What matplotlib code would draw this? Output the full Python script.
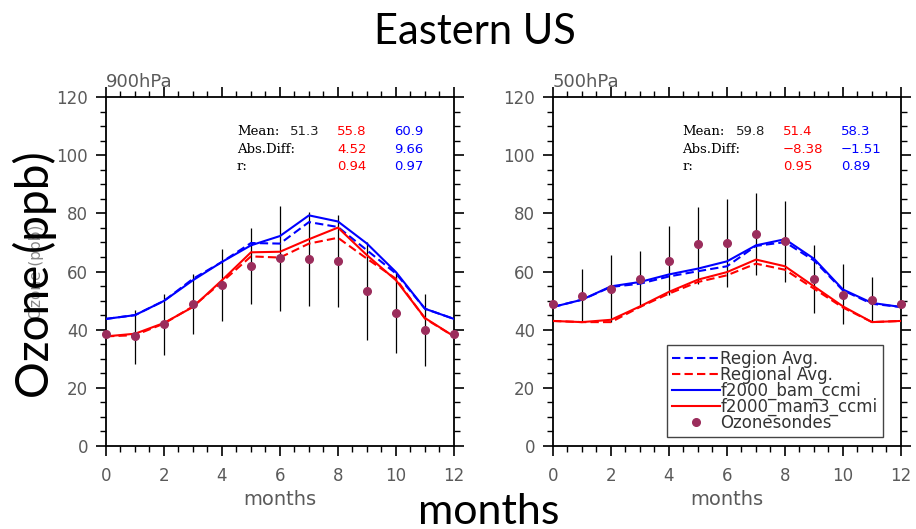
import numpy as np
import matplotlib
matplotlib.use("Agg")
import matplotlib.pyplot as plt
from matplotlib.ticker import MultipleLocator

# meses 0..12 (12 repite enero)
months = list(range(13))

# 900 hPa
bam_900 = [43.7, 45.0, 49.9, 57.0, 63.3, 69.0, 72.2, 79.3, 77.2, 69.6, 59.8, 47.2, 43.7]
bam_reg_900 = [43.7, 45.0, 49.9, 57.5, 63.3, 69.8, 69.6, 77.0, 75.3, 67.3, 59.3, 47.2, 43.7]
mam3_900 = [37.7, 38.6, 42.3, 47.8, 57.0, 66.6, 66.8, 71.1, 75.1, 65.6, 57.0, 44.0, 37.7]
mam3_reg_900 = [37.7, 38.1, 42.1, 48.0, 56.4, 65.2, 64.8, 69.6, 71.6, 64.4, 57.5, 43.8, 37.7]
sonde_900 = [38.6, 37.7, 42.1, 48.9, 55.2, 61.9, 64.5, 64.2, 63.5, 53.4, 45.8, 40.0, 38.6]
err_months = list(range(1, 12))
sonde_hi_900 = [46.6, 52.4, 59.3, 67.9, 75.1, 82.5, 80.5, 79.3, 70.1, 59.8, 52.4]
sonde_lo_900 = [28.3, 31.4, 38.4, 43.0, 48.9, 46.4, 48.1, 47.8, 36.3, 32.0, 27.4]

# 500 hPa
bam_500 = [47.8, 50.3, 54.9, 56.4, 59.0, 61.0, 63.5, 69.0, 71.1, 64.4, 53.8, 49.2, 47.8]
bam_reg_500 = [47.8, 50.3, 54.7, 55.8, 58.3, 60.1, 61.8, 68.8, 70.1, 63.8, 53.5, 48.9, 47.8]
mam3_500 = [43.0, 42.6, 43.4, 48.0, 53.0, 57.2, 59.8, 64.1, 61.8, 54.9, 48.0, 42.6, 43.0]
mam3_reg_500 = [43.0, 42.6, 42.6, 47.8, 52.4, 56.4, 58.7, 62.7, 60.6, 54.1, 47.6, 42.6, 43.0]
sonde_500 = [48.9, 51.7, 54.1, 57.4, 63.6, 69.5, 69.8, 72.9, 70.4, 57.5, 52.0, 50.1, 48.9]
sonde_hi_500 = [60.7, 65.6, 66.9, 75.6, 82.2, 85.0, 87.1, 84.4, 69.0, 62.5, 58.0]
sonde_lo_500 = [43.0, 42.6, 47.8, 51.8, 55.8, 54.7, 58.9, 56.4, 45.8, 42.1, 42.6]

# estadisticas: (obs, mam3, bam)
stats_900 = {"mean": ("51.3", "55.8", "60.9"), "diff": ("4.52", "9.66"), "r": ("0.94", "0.97")}
stats_500 = {"mean": ("59.8", "51.4", "58.3"), "diff": ("\u22128.38", "\u22121.51"), "r": ("0.95", "0.89")}

gris = "#5a5a5a"
sonde_color = "#9B2D5C"

fig = plt.figure(figsize=(9.16, 5.29), dpi=100)
ax1 = fig.add_axes([0.1157, 0.1569, 0.3799, 0.6597])
ax2 = fig.add_axes([0.6037, 0.1569, 0.3799, 0.6597])


def dibujar(ax, bam, bam_reg, mam3, mam3_reg, sonde, hi, lo, nivel, stats, xs):
    ax.vlines(err_months, lo, hi, color="black", lw=0.9, zorder=2)
    l1, = ax.plot(months, bam_reg, color="blue", lw=1.5, ls=(0, (4, 2)), label="Region Avg.", zorder=3)
    l2, = ax.plot(months, mam3_reg, color="red", lw=1.5, ls=(0, (4, 2)), label="Regional Avg.", zorder=3)
    l3, = ax.plot(months, bam, color="blue", lw=1.5, label="f2000_bam_ccmi", zorder=3)
    l4, = ax.plot(months, mam3, color="red", lw=1.5, label="f2000_mam3_ccmi", zorder=3)
    l5, = ax.plot(months, sonde, "o", color=sonde_color, ms=5.5, lw=0, label="Ozonesondes",
                  zorder=4, clip_on=False)

    ax.set_xlim(0, 12)
    ax.set_ylim(0, 120)
    ax.xaxis.set_major_locator(MultipleLocator(2))
    ax.xaxis.set_minor_locator(MultipleLocator(0.5))
    ax.yaxis.set_major_locator(MultipleLocator(20))
    ax.yaxis.set_minor_locator(MultipleLocator(5))
    ax.tick_params(which="both", direction="out", top=True, right=True, color="black")
    ax.tick_params(which="major", length=7, width=1.2, labelsize=12, labelcolor=gris)
    ax.tick_params(which="minor", length=4, width=1.0)
    ax.tick_params(axis="x", which="major", pad=8)
    ax.tick_params(axis="y", which="major", pad=6)
    for s in ax.spines.values():
        s.set_linewidth(1.3)
    ax.set_xlabel("months", fontsize=14, color=gris, labelpad=4)
    ax.set_title(nivel, loc="left", fontsize=13, color=gris, y=1.0, pad=7)

    # tabla de estadisticas
    ys = [0.9026, 0.851, 0.802]
    serif = dict(family="DejaVu Serif", fontsize=9.5, va="center", transform=ax.transAxes)
    sans = dict(family="DejaVu Sans", fontsize=9.5, va="center", transform=ax.transAxes)
    ax.text(xs[0], ys[0], "Mean:", **serif)
    ax.text(xs[0], ys[1], "Abs.Diff:", **serif)
    ax.text(xs[0], ys[2], "r:", **serif)
    ax.text(xs[1], ys[0], stats["mean"][0], color="#222222", **sans)
    ax.text(xs[2], ys[0], stats["mean"][1], color="red", **sans)
    ax.text(xs[3], ys[0], stats["mean"][2], color="blue", **sans)
    ax.text(xs[2], ys[1], stats["diff"][0], color="red", **sans)
    ax.text(xs[3], ys[1], stats["diff"][1], color="blue", **sans)
    ax.text(xs[2], ys[2], stats["r"][0], color="red", **sans)
    ax.text(xs[3], ys[2], stats["r"][1], color="blue", **sans)
    return [l1, l2, l3, l4, l5]


dibujar(ax1, bam_900, bam_reg_900, mam3_900, mam3_reg_900, sonde_900,
        sonde_hi_900, sonde_lo_900, "900hPa", stats_900, [0.376, 0.529, 0.664, 0.828])
handles = dibujar(ax2, bam_500, bam_reg_500, mam3_500, mam3_reg_500, sonde_500,
                  sonde_hi_500, sonde_lo_500, "500hPa", stats_500, [0.371, 0.526, 0.661, 0.828])

ax1.set_ylabel("Ozone (ppb)", fontsize=11, color="#888888", labelpad=9)

leg = ax2.legend(handles=handles, loc="lower left", bbox_to_anchor=(0.328, 0.026),
                 borderaxespad=0, fontsize=12, labelspacing=-0.13, handlelength=2.9,
                 handletextpad=0.0, borderpad=0.3, numpoints=1, fancybox=False,
                 framealpha=1, edgecolor="#444444")
leg.get_frame().set_linewidth(1.0)
for t in leg.get_texts():
    t.set_color("#333333")

# textos superpuestos (diapositiva)
fig.text(0.518, 0.94, "Eastern US", family="Lato", fontsize=30, ha="center", va="center")
fig.text(0.038, 0.48, "Ozone (ppb)", family="Lato", fontsize=33, rotation=90,
         ha="center", va="center", zorder=10)
fig.text(0.533, 0.01, "months", family="Lato", fontsize=31, ha="center", va="baseline")

fig.savefig("out.png", dpi=100)
